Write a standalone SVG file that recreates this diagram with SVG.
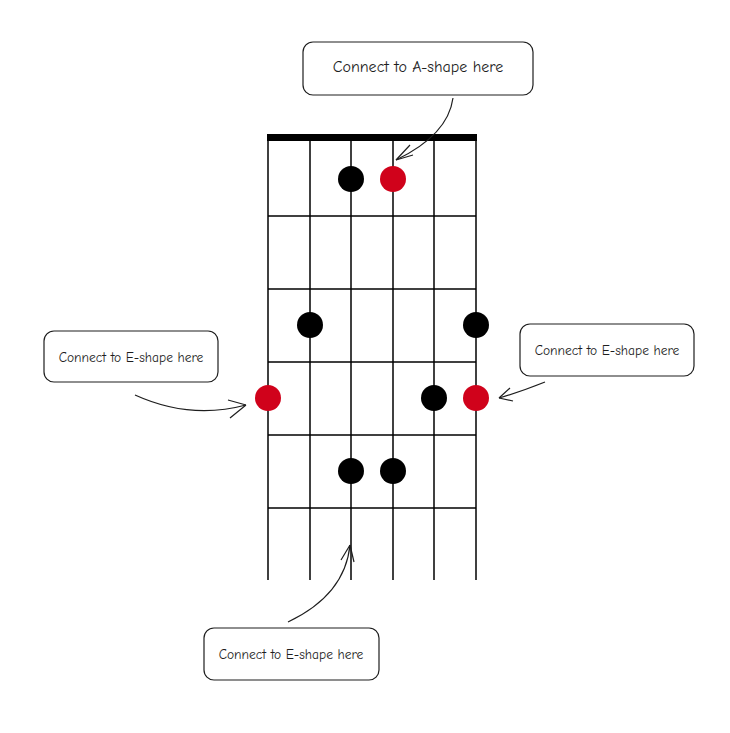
<svg xmlns="http://www.w3.org/2000/svg" width="730" height="733" viewBox="0 0 730 733">
<style>
.s{stroke:#000;stroke-width:1.5}
.b{fill:#000}.r{fill:#d0021b}
.box{fill:#fff;stroke:#1e1e1e;stroke-width:1.2}
.t{font-family:"Comic Neue","Liberation Sans",sans-serif;fill:#1e1e1e;text-anchor:middle}
.a{fill:none;stroke:#1e1e1e;stroke-width:1.2}
</style>
<rect width="730" height="733" fill="#fff"/>
<g id="fretboard">
<rect x="267" y="134" width="210" height="7" fill="#000"/>
<g class="s">
<line x1="268" y1="137" x2="268" y2="580"/><line x1="310" y1="137" x2="310" y2="580"/>
<line x1="351" y1="137" x2="351" y2="580"/><line x1="393" y1="137" x2="393" y2="580"/>
<line x1="434" y1="137" x2="434" y2="580"/><line x1="476" y1="137" x2="476" y2="580"/>
<line x1="268" y1="216" x2="476" y2="216"/><line x1="268" y1="289" x2="476" y2="289"/>
<line x1="268" y1="362" x2="476" y2="362"/><line x1="268" y1="435" x2="476" y2="435"/>
<line x1="268" y1="508" x2="476" y2="508"/>
</g>
</g>
<g id="dots">
<circle class="b" cx="351" cy="179" r="13"/><circle class="r" cx="393" cy="179" r="13"/>
<circle class="b" cx="310" cy="325" r="13"/><circle class="b" cx="476" cy="325" r="13"/>
<circle class="r" cx="268" cy="398" r="13"/><circle class="b" cx="434" cy="398" r="13"/><circle class="r" cx="476" cy="398" r="13"/>
<circle class="b" cx="351" cy="471" r="13"/><circle class="b" cx="393" cy="471" r="13"/>
</g>
<g id="n-top"><rect class="box" x="303" y="42" width="230" height="53" rx="10"/><text class="t" x="418" y="72" font-size="16">Connect to A-shape here</text></g>
<g id="n-left"><rect class="box" x="44" y="331" width="174" height="51" rx="10"/><text class="t" x="131" y="362" font-size="13.5">Connect to E-shape here</text></g>
<g id="n-right"><rect class="box" x="520" y="324" width="174" height="52" rx="10"/><text class="t" x="607" y="355" font-size="13.5">Connect to E-shape here</text></g>
<g id="n-bottom"><rect class="box" x="204" y="628" width="175" height="52" rx="10"/><text class="t" x="291" y="659" font-size="13.5">Connect to E-shape here</text></g>
<g id="connectors">
<path class="a" d="M453 98 Q448 135 396 160"/><path class="a" d="M396 160 L410 145 M396 160 L413 155"/>
<path class="a" d="M135 395 Q190 420 246 405"/><path class="a" d="M246 405 L228 400 M246 405 L230 418"/>
<path class="a" d="M545 382 Q520 392 499 398"/><path class="a" d="M499 398 L510 388 M499 398 L513 401"/>
<path class="a" d="M288 622 Q345 595 350 545"/><path class="a" d="M350 545 L341 560 M350 545 L354 562"/>
</g>
</svg>
